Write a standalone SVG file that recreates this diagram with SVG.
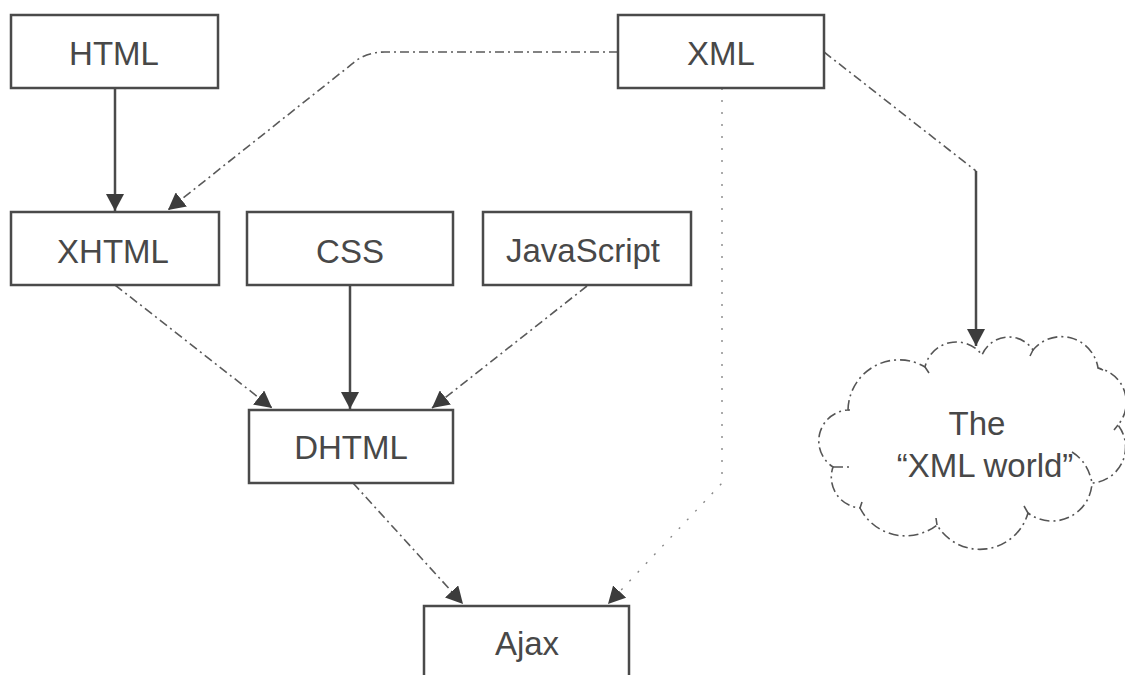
<svg xmlns="http://www.w3.org/2000/svg" width="1125" height="675" viewBox="0 0 1125 675">
<defs>
<style>
.box{fill:#fff;stroke:#4a4a4a;stroke-width:2.5}
.lbl{font-family:"Liberation Sans",Arial,sans-serif;font-size:33px;fill:#484848;text-anchor:middle}
.solid{fill:none;stroke:#4a4a4a;stroke-width:2.5}
.dashdot{fill:none;stroke:#5a5a5a;stroke-width:1.6;stroke-dasharray:9 4 2 4}
.dotted{fill:none;stroke:#888;stroke-width:1.4;stroke-dasharray:2 10}
.cloud{fill:#fff;stroke:#555;stroke-width:1.6;stroke-dasharray:10 4 2 4}
</style>
<marker id="ah" viewBox="0 0 17 18" refX="17" refY="9" markerWidth="17" markerHeight="18" markerUnits="userSpaceOnUse" orient="auto">
<path d="M0,0 L17,9 L0,18 Z" fill="#3c3c3c"/>
</marker>
</defs>
<rect width="1125" height="675" fill="#fff"/>

<g id="connectors">
<path class="solid" d="M115,88 L115,211" marker-end="url(#ah)"/>
<path class="dashdot" d="M618,52 L385,52 Q365,52 352,64 L168,210" marker-end="url(#ah)"/>
<path class="solid" d="M350,285 L350,409" marker-end="url(#ah)"/>
<path class="dashdot" d="M115,285 L272,408" marker-end="url(#ah)"/>
<path class="dashdot" d="M587,286 L432,408" marker-end="url(#ah)"/>
<path class="dashdot" d="M353,483 L463,604" marker-end="url(#ah)"/>
<path class="dotted" d="M722,88 L722,483 L608,604" marker-end="url(#ah)"/>
<path class="dashdot" d="M824,52 L976,171"/>
<path class="solid" d="M976,171 L976,346" marker-end="url(#ah)"/>
</g>

<g id="node-html">
<rect class="box" x="11" y="15" width="207" height="73"/>
<text class="lbl" x="114" y="65">HTML</text>
</g>
<g id="node-xml">
<rect class="box" x="618" y="15" width="206" height="73"/>
<text class="lbl" x="721" y="65">XML</text>
</g>
<g id="node-xhtml">
<rect class="box" x="11" y="212" width="208" height="73"/>
<text class="lbl" x="113" y="263">XHTML</text>
</g>
<g id="node-css">
<rect class="box" x="247" y="212" width="206" height="73"/>
<text class="lbl" x="350" y="263">CSS</text>
</g>
<g id="node-javascript">
<rect class="box" x="483" y="212" width="208" height="73"/>
<text class="lbl" x="583" y="262">JavaScript</text>
</g>
<g id="node-dhtml">
<rect class="box" x="249" y="410" width="204" height="73"/>
<text class="lbl" x="351" y="459">DHTML</text>
</g>
<g id="node-ajax">
<rect class="box" x="424" y="606" width="205" height="80"/>
<text class="lbl" x="527" y="655">Ajax</text>
</g>
<g id="node-xmlworld">
<path class="cloud" d="M848,410 A51,51 0 0 1 925,367 A32,32 0 0 1 982,355 A29,29 0 0 1 1033,350 A37,37 0 0 1 1098,368 A35,35 0 0 1 1118,425 A36,36 0 0 1 1092,483 A40,40 0 0 1 1028,513 A50,50 0 0 1 937,525 A51,51 0 0 1 860,508 A31,31 0 0 1 833,467 A31,31 0 0 1 848,410 Z"/>
<path class="cloud" d="M1072,452 Q1088,462 1092,483 M925,367 L929,373 M1033,350 L1030,356 M1098,368 L1103,370 M1118,425 L1114,430 M1028,513 L1024,506 M937,525 L936,518 M860,508 L862,502 M833,467 L850,467 M848,410 L850,410"/>
<text class="lbl" x="977" y="435">The</text>
<text class="lbl" x="985" y="477">“XML world”</text>
</g>
</svg>
